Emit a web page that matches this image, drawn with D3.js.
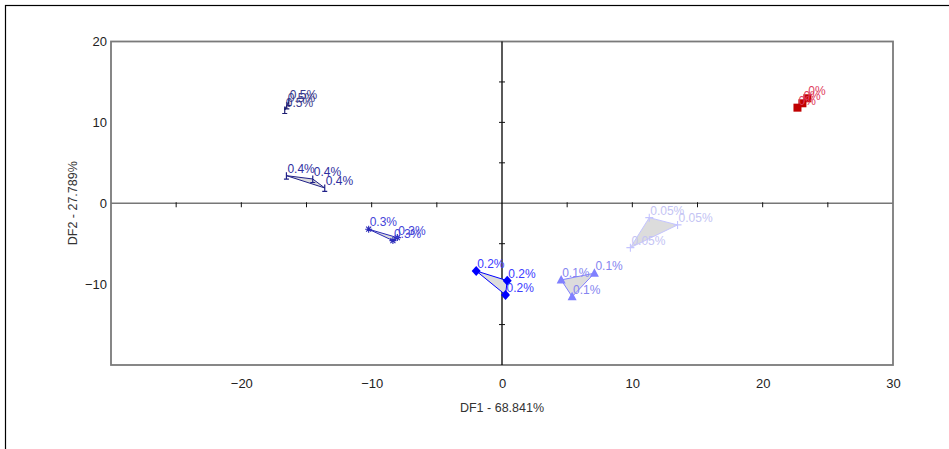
<!DOCTYPE html>
<html>
<head>
<meta charset="utf-8">
<script src="https://cdn.jsdelivr.net/npm/d3@7"></script>
<style>
  body { margin: 0; background: #fff; }
  svg { display: block; font-family: "Liberation Sans", Arial, sans-serif; }
</style>
</head>
<body>
<div id="chart-container"></div>
<script>
// groups (concentration levels) and their DF scores, three replicates each
const groups = ["0.5%", "0.4%", "0.3%", "0.2%", "0.1%", "0.05%", "0%"];
const df1 = [
  [-16.36, -16.51, -16.67],
  [-16.54, -14.52, -13.60],
  [-10.23, -8.37, -8.03],
  [-1.98, 0.40, 0.27],
  [4.54, 7.09, 5.38],
  [11.30, 13.47, 9.85],
  [22.67, 23.05, 23.43]
];
const df2 = [
  [12.52, 12.09, 11.53],
  [3.41, 3.00, 1.89],
  [-3.21, -4.62, -4.25],
  [-8.37, -9.57, -11.33],
  [-9.48, -8.65, -11.55],
  [-1.78, -2.68, -5.49],
  [11.82, 12.36, 12.98]
];
const xTicks = [-20, -10, 0, 10, 20, 30];
const yTicks = [20, 10, 0, -10];
const axisMarks = [-25, -20, -15, -10, -5, 5, 10, 15, 20, 25];
const xLabel = "DF1 - 68.841%";
const yLabel = "DF2 - 27.789%";

// styling per group
const markColor = ["#1c1c70", "#202088", "#2a2ab8", "#0000ff", "#8080ff", "#c4c4ff", "#c00000"];
const textColor = ["#3a3a8c", "#2e2ea0", "#4444d8", "#3c3cff", "#8585f0", "#c4c4f4", "#e04060"];
const markShape = ["bar", "bar", "star", "diamond", "triangle", "plus", "square"];

const W = 949, H = 449;

const x = d3.scaleLinear().domain([-30, 30]).range([111, 893]);
const y = d3.scaleLinear().domain([-20, 20]).range([365, 41.5]);

const svg = d3.select("#chart-container")
  .append("svg")
    .attr("width", W)
    .attr("height", H);

// outer frame
svg.append("rect")
  .attr("x", 5.5).attr("y", 5.5)
  .attr("width", 1000).attr("height", 1000)
  .attr("fill", "none")
  .attr("stroke", "#000")
  .attr("stroke-width", 1.2);

// plot frame
svg.append("rect")
  .attr("x", x(-30)).attr("y", y(20))
  .attr("width", x(30) - x(-30)).attr("height", y(-20) - y(20))
  .attr("fill", "none")
  .attr("stroke", "#7a7a7a")
  .attr("stroke-width", 1.8);

// zero lines
svg.append("line")
  .attr("x1", x(-30)).attr("x2", x(30))
  .attr("y1", y(0)).attr("y2", y(0))
  .attr("stroke", "#777").attr("stroke-width", 1.5);
svg.append("line")
  .attr("x1", x(0)).attr("x2", x(0))
  .attr("y1", y(20)).attr("y2", y(-20))
  .attr("stroke", "#000").attr("stroke-width", 1.3);

// small ticks on the zero lines
svg.append("g").selectAll("line")
  .data(axisMarks)
  .join("line")
  .attr("x1", d => x(d)).attr("x2", d => x(d))
  .attr("y1", y(0) - 1).attr("y2", y(0) + 4)
  .attr("stroke", "#111").attr("stroke-width", 1);
svg.append("g").selectAll("line")
  .data(axisMarks.filter(d => Math.abs(d) < 20))
  .join("line")
  .attr("x1", x(0) - 3).attr("x2", x(0) + 3)
  .attr("y1", d => y(d)).attr("y2", d => y(d))
  .attr("stroke", "#111").attr("stroke-width", 1);

// axes (labels only)
svg.append("g")
  .attr("transform", `translate(0,${y(-20)})`)
  .style("font-size", "13px")
  .call(d3.axisBottom(x).tickValues(xTicks).tickSize(0).tickPadding(14))
  .call(g => g.select(".domain").remove())
  .selectAll("text")
  .attr("fill", "#222")
  .style("font-family", "Liberation Sans, Arial, sans-serif");

svg.append("g")
  .attr("transform", `translate(${x(-30)},0)`)
  .style("font-size", "13px")
  .call(d3.axisLeft(y).tickValues(yTicks).tickSize(0).tickPadding(4))
  .call(g => g.select(".domain").remove())
  .selectAll("text")
  .attr("fill", "#222")
  .style("font-family", "Liberation Sans, Arial, sans-serif");

// axis titles
svg.append("text")
  .attr("x", x(0))
  .attr("y", 411.5)
  .attr("text-anchor", "middle")
  .style("font-size", "12.5px")
  .attr("fill", "#333")
  .text(xLabel);

svg.append("text")
  .attr("transform", `translate(77,${y(0)}) rotate(-90)`)
  .attr("text-anchor", "middle")
  .style("font-size", "12.5px")
  .attr("fill", "#333")
  .text(yLabel);

// marker drawing
function drawMark(g, shape, color) {
  if (shape === "bar") {
    g.append("path").attr("d", "M0,-3.5V3.5M-2.5,3.5H2.5")
      .attr("stroke", color).attr("stroke-width", 1.2).attr("fill", "none");
  } else if (shape === "star") {
    g.append("path").attr("d", "M-3.5,0H3.5M0,-3.5V3.5M-2.5,-2.5L2.5,2.5M-2.5,2.5L2.5,-2.5")
      .attr("stroke", color).attr("stroke-width", 1.1).attr("fill", "none");
  } else if (shape === "plus") {
    g.append("path").attr("d", "M-4,0H4M0,-4V4")
      .attr("stroke", color).attr("stroke-width", 1.1).attr("fill", "none");
  } else if (shape === "diamond") {
    g.append("path").attr("d", "M0,-5L4.5,0L0,5L-4.5,0Z").attr("fill", color);
  } else if (shape === "triangle") {
    g.append("path").attr("d", "M0,-5L4.5,3.5L-4.5,3.5Z").attr("fill", color);
  } else if (shape === "square") {
    g.append("rect").attr("x", -4).attr("y", -4).attr("width", 8).attr("height", 8).attr("fill", color);
  }
}

groups.forEach((name, gi) => {
  const pts = df1[gi].map((v, i) => [x(v), y(df2[gi][i])]);
  const grp = svg.append("g");

  // convex hull of the replicates
  const hull = d3.polygonHull(pts) || pts;
  grp.append("path")
    .attr("d", "M" + hull.map(p => p.join(",")).join("L") + "Z")
    .attr("fill", "#dcdcdc")
    .attr("stroke", markColor[gi])
    .attr("stroke-width", 1);

  pts.forEach(p => {
    const m = grp.append("g").attr("transform", `translate(${p[0]},${p[1]})`);
    drawMark(m, markShape[gi], markColor[gi]);
  });

  grp.selectAll("text")
    .data(pts)
    .join("text")
    .attr("x", d => d[0] + 1)
    .attr("y", d => d[1] - 3)
    .style("font-size", "12px")
    .attr("fill", textColor[gi])
    .text(name);
});
</script>
</body>
</html>
